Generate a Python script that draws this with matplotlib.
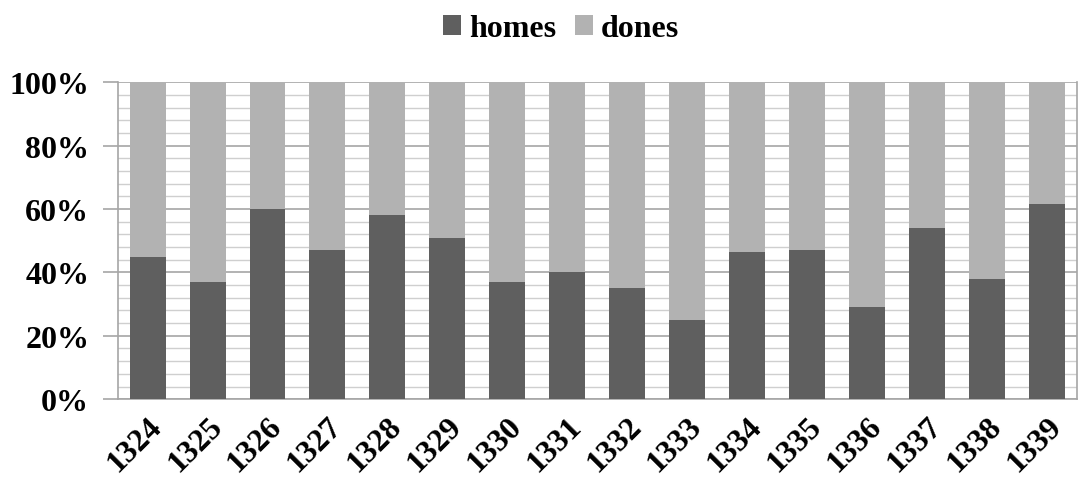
import matplotlib.pyplot as plt
import numpy as np
from matplotlib.ticker import MultipleLocator, PercentFormatter

# 数据
years = ['1324', '1325', '1326', '1327', '1328', '1329', '1330', '1331',
         '1332', '1333', '1334', '1335', '1336', '1337', '1338', '1339']
homes = [45, 37, 60, 47, 58, 51, 37, 40, 35, 25, 46.5, 47, 29, 54, 38, 61.5]
dones = [100 - h for h in homes]

plt.rcParams['font.family'] = 'Liberation Serif'
plt.rcParams['font.weight'] = 'bold'

fig = plt.figure(figsize=(10.79, 4.81), dpi=100)
ax = fig.add_axes([0.109, 0.168, 0.889, 0.659])

x = np.arange(len(years))
ax.bar(x, homes, width=0.6, color='#5f5f5f', label='homes', zorder=3)
ax.bar(x, dones, width=0.6, bottom=homes, color='#b2b2b2', label='dones', zorder=3)

ax.set_xlim(-0.5, len(years) - 0.5)
ax.set_ylim(0, 100)
ax.yaxis.set_major_locator(MultipleLocator(20))
ax.yaxis.set_minor_locator(MultipleLocator(4))
ax.yaxis.set_major_formatter(PercentFormatter(decimals=0))
ax.grid(axis='y', which='major', color='#a6a6a6', linewidth=1.2, zorder=0)
ax.grid(axis='y', which='minor', color='#cfcfcf', linewidth=1.0, zorder=0)

for s in ['left', 'bottom', 'right']:
    ax.spines[s].set_color('#a6a6a6')
    ax.spines[s].set_linewidth(1.2)
ax.spines['top'].set_visible(False)

ax.set_xticks(x)
ax.set_xticklabels(years, rotation=45, ha='right', rotation_mode='anchor',
                   fontsize=23, fontweight='bold')
ax.tick_params(axis='x', length=0, pad=9)
ax.tick_params(axis='y', which='major', length=11, color='#a6a6a6', width=1.2,
               labelsize=23, pad=9.5)
ax.tick_params(axis='y', which='minor', length=0)
for t in ax.get_yticklabels():
    t.set_fontweight('bold')

fig.legend(loc='center', bbox_to_anchor=(0.52, 0.938), ncol=2, frameon=False,
           prop={'size': 23, 'weight': 'bold'}, handlelength=0.55, handleheight=0.55,
           handletextpad=0.25, columnspacing=0.6)

fig.savefig('out.png', dpi=100)
